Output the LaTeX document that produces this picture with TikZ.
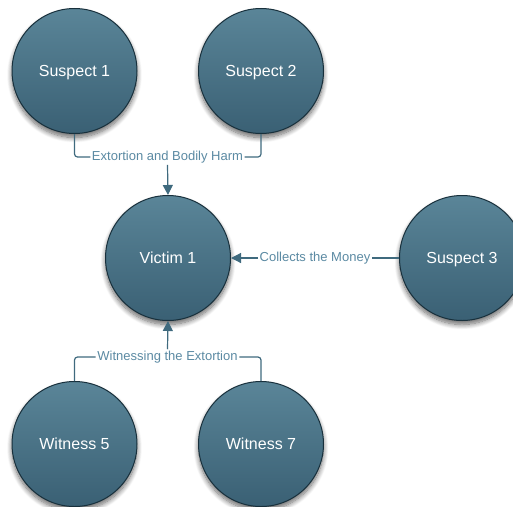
\documentclass[tikz,border=0pt]{standalone}
\usepackage{fontspec}
\setmainfont{Liberation Sans}
\usetikzlibrary{arrows.meta,shadows.blur}

\definecolor{discTop}{HTML}{5A8598}
\definecolor{discBot}{HTML}{3A6074}
\definecolor{discRim}{HTML}{18303C}
\definecolor{linkCol}{HTML}{3F6A7E}
\definecolor{labCol}{HTML}{5B8AA3}

\tikzset{
  person/.style={circle, minimum size=125pt, inner sep=0pt,
    text height=11.5pt, text depth=0pt,
    top color=discTop, bottom color=discBot, draw=discRim, line width=1pt,
    text=white, font=\fontsize{16}{18}\selectfont,
    blur shadow={shadow xshift=0pt, shadow yshift=-4pt, shadow blur steps=10,
      shadow blur radius=5pt, shadow opacity=60}},
  linklabel/.style={fill=white, inner sep=1.5pt, text=labCol,
    font=\fontsize{13}{15}\selectfont},
  link/.style={draw=linkCol, line width=1.2pt, rounded corners=3pt},
  arrowlink/.style={link, -{Triangle[length=10pt, width=10pt]}}
}

\begin{document}
\begin{tikzpicture}[x=1pt, y=-1pt]
  \useasboundingbox (0,0) rectangle (513,506);

  % people
  \node[person] (s1) at (74.5,71) {Suspect 1};
  \node[person] (s2) at (261,71) {Suspect 2};
  \node[person] (v1) at (168,258) {Victim 1};
  \node[person] (s3) at (462,258) {Suspect 3};
  \node[person] (w5) at (74.5,444) {Witness 5};
  \node[person] (w7) at (261,444) {Witness 7};

  % relation labels
  \node[linklabel] (lh) at (167.5,157) {Extortion and Bodily Harm};
  \node[linklabel] (lm) at (315,258) {Collects the Money};
  \node[linklabel] (lw) at (167.5,357) {Witnessing the Extortion};

  % suspects 1 and 2 -> victim
  \draw[link] (s1.south) |- (lh.west);
  \draw[link] (lh.east) -| (s2.south);
  \draw[arrowlink] (lh.south) -- (v1.north);

  % suspect 3 -> victim
  \draw[link] (s3.west) -- (lm.east);
  \draw[arrowlink] (lm.west) -- (v1.east);

  % witnesses -> victim
  \draw[link] (w5.north) |- (lw.west);
  \draw[link] (lw.east) -| (w7.north);
  \draw[arrowlink] (lw.north) -- (v1.south);
\end{tikzpicture}
\end{document}
